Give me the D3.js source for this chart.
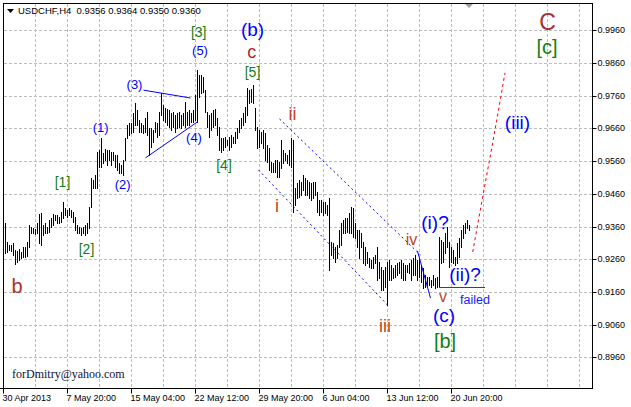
<!DOCTYPE html>
<html><head><meta charset="utf-8">
<script src="https://cdn.jsdelivr.net/npm/d3@7"></script>
<style>
html,body{margin:0;padding:0;background:#fff;}
svg{display:block;}
</style></head>
<body>
<svg id="chart" width="631" height="407"></svg>
<script>
// ---- DATA ----
const symbolTitle = "USDCHF,H4  0.9356 0.9364 0.9350 0.9360";
const highs = [
0.9371,0.9313,0.9304,0.9304,0.9310,0.9288,0.9285,0.9291,0.9282,0.9297,
0.9297,0.9313,0.9365,0.9359,0.9356,0.9353,0.9371,0.9398,0.9401,0.9365,
0.9371,0.9359,0.9380,0.9386,0.9398,0.9395,0.9395,0.9389,0.9405,0.9435,
0.9417,0.9411,0.9417,0.9411,0.9405,0.9389,0.9365,0.9359,0.9356,0.9359,
0.9365,0.9371,0.9420,0.9509,0.9502,0.9518,0.9588,0.9594,0.9631,0.9585,
0.9597,0.9594,0.9594,0.9588,0.9588,0.9579,0.9579,0.9554,0.9548,0.9563,
0.9631,0.9670,0.9677,0.9677,0.9707,0.9738,0.9716,0.9686,0.9677,0.9670,
0.9692,0.9710,0.9661,0.9661,0.9655,0.9680,0.9677,0.9710,
0.9768,0.9732,0.9722,0.9719,0.9716,0.9707,0.9710,0.9701,0.9707,0.9710,0.9701,0.9707,
0.9741,0.9710,0.9716,0.9707,0.9716,0.9762,0.9839,0.9823,0.9823,0.9817,
0.9778,0.9710,0.9701,0.9707,0.9716,0.9719,0.9692,0.9664,0.9631,0.9631,
0.9634,0.9625,0.9634,0.9640,0.9634,0.9649,0.9661,0.9686,0.9692,0.9707,
0.9725,0.9784,0.9778,0.9781,0.9793,0.9722,0.9664,0.9655,0.9649,0.9655,
0.9646,0.9609,0.9600,0.9557,0.9554,0.9563,0.9563,0.9557,0.9625,0.9594,
0.9585,0.9579,0.9594,0.9631,0.9625,
0.9478,0.9493,0.9502,0.9496,0.9518,0.9509,0.9502,0.9496,0.9493,0.9496,
0.9496,0.9466,0.9441,0.9441,0.9435,0.9435,0.9426,0.9447,0.9313,0.9310,
0.9297,0.9304,0.9349,0.9371,0.9380,0.9386,0.9386,0.9401,0.9420,0.9417,
0.9371,0.9349,0.9349,0.9340,0.9313,0.9297,0.9282,0.9264,0.9258,0.9267,
0.9273,0.9297,0.9252,0.9236,0.9227,0.9236,0.9252,0.9258,0.9242,0.9233,
0.9242,0.9249,0.9252,0.9258,0.9249,0.9242,0.9242,0.9249,0.9258,0.9264,
0.9273,0.9258,0.9264,0.9242,0.9233,0.9212,0.9206,0.9206,0.9196,0.9212,
0.9203,0.9206,0.9328,0.9319,0.9313,0.9340,0.9359,0.9313,0.9297,0.9288,
0.9267,0.9310,0.9325,0.9349,0.9365,0.9371,0.9380,0.9364
];
const lows = [
0.9279,0.9282,0.9288,0.9285,0.9273,0.9245,0.9252,0.9258,0.9264,0.9267,
0.9267,0.9270,0.9297,0.9340,0.9340,0.9337,0.9340,0.9310,0.9304,0.9334,
0.9340,0.9340,0.9343,0.9359,0.9365,0.9380,0.9371,0.9371,0.9374,0.9386,
0.9395,0.9389,0.9395,0.9389,0.9374,0.9349,0.9340,0.9340,0.9334,0.9340,
0.9334,0.9340,0.9356,0.9420,0.9478,0.9478,0.9478,0.9542,0.9542,0.9554,
0.9563,0.9548,0.9563,0.9548,0.9563,0.9542,0.9533,0.9524,0.9524,0.9518,
0.9563,0.9631,0.9640,0.9646,0.9649,0.9670,0.9670,0.9649,0.9649,0.9646,
0.9649,0.9640,0.9579,0.9603,0.9618,0.9649,0.9634,0.9640,
0.9701,0.9686,0.9680,0.9670,0.9664,0.9655,0.9664,0.9649,0.9661,0.9664,0.9661,0.9670,
0.9664,0.9670,0.9670,0.9680,0.9680,0.9686,0.9680,0.9756,0.9768,0.9771,
0.9710,0.9664,0.9634,0.9655,0.9664,0.9670,0.9640,0.9594,0.9588,0.9594,
0.9603,0.9609,0.9594,0.9603,0.9615,0.9615,0.9631,0.9649,0.9661,0.9670,
0.9680,0.9701,0.9738,0.9741,0.9738,0.9655,0.9600,0.9603,0.9615,0.9600,
0.9563,0.9557,0.9533,0.9527,0.9527,0.9527,0.9512,0.9512,0.9539,0.9554,
0.9563,0.9554,0.9548,0.9542,0.9405,
0.9426,0.9447,0.9450,0.9457,0.9472,0.9457,0.9457,0.9447,0.9441,0.9447,
0.9457,0.9405,0.9395,0.9405,0.9395,0.9401,0.9395,0.9227,0.9273,0.9264,
0.9252,0.9264,0.9297,0.9304,0.9340,0.9340,0.9343,0.9340,0.9340,0.9328,
0.9325,0.9297,0.9264,0.9297,0.9249,0.9242,0.9249,0.9236,0.9233,0.9233,
0.9249,0.9196,0.9203,0.9166,0.9166,0.9175,0.9120,0.9196,0.9196,0.9203,
0.9206,0.9212,0.9218,0.9203,0.9196,0.9196,0.9221,0.9218,0.9196,0.9212,
0.9212,0.9196,0.9206,0.9190,0.9172,0.9175,0.9175,0.9181,0.9175,0.9181,
0.9172,0.9175,0.9175,0.9249,0.9252,0.9279,0.9297,0.9236,0.9252,0.9249,
0.9242,0.9249,0.9267,0.9297,0.9325,0.9340,0.9356,0.9350
];
const priceTicks = [0.9960,0.9860,0.9760,0.9660,0.9560,0.9460,0.9360,0.9260,0.9160,0.9060,0.8960];
const timeTickBars = [0,32,64,96,128,160,192,224];
const timeTickLabels = ["30 Apr 2013","7 May 20:00","15 May 04:00","22 May 12:00","29 May 20:00","6 Jun 04:00","13 Jun 12:00","20 Jun 20:00"];

// wave labels: text, bar index, price (baseline), kind
const waveText  = ["(1)","(2)","(3)","(4)","(5)","[1]","[2]","[3]","[4]","[5]","(b)","c","b","i","ii","iii","iv","v","(c)","[b]","(i)?","(ii)?","failed","(iii)","C","[c]"];
const waveBar   = [48.85,59.85,65.75,95.5,98.5,29.75,41.75,97.85,110.5,124.75,124.75,124.35,7,137,144.75,191,204.25,220,220.5,221,216,231,236,257.25,272.25,272];
const wavePrice = [0.9648,0.9474,0.9780,0.9618,0.9885,0.9481,0.9276,0.9940,0.9533,0.9817,0.9943,0.9875,0.9157,0.9404,0.9686,0.9037,0.9303,0.9129,0.9068,0.8988,0.9352,0.9193,0.9123,0.9658,0.9961,0.9888];
const waveKind  = ["minor","minor","minor","minor","minor","inter","inter","inter","inter","inter","minorL","minute","minuteL","minute","minute","minute","minuteS","minuteS","minorL","interL","minorL","minorL","note","minorL","primary","interL"];

// trend lines: [bar, price] pairs
const line3 = [[70,0.9777],[93.5,0.9753]];
const line4 = [[71,0.9570],[97,0.9680]];
const channelUpper = [[138,0.9689],[208.5,0.9273]];
const channelLower = [[127.5,0.9533],[192,0.9120]];
const wedgeLine = [[207,0.9285],[213.5,0.9141]];
const projection = [[234.85,0.9282],[240.5,0.9472],[246,0.9655],[251,0.9830]];
const failedLine = [[218,0.9176],[241,0.9176]];

// ---- DRAW ----
const W = 631, H = 407;
const svg = d3.select("#chart");
svg.append("rect").attr("width",W).attr("height",H).attr("fill","#fff");

const x = d3.scaleLinear().domain([0,295]).range([3,593]);
const y = d3.scaleLinear().domain([0.88631,1.00435]).range([389,3]);
const px = v => Math.round(x(v)) + 0.5;
const py = v => Math.round(y(v)) + 0.5;

const font = "'Liberation Sans', Arial, sans-serif";

// grid
const grid = svg.append("g").attr("stroke","#bdbdbd").attr("stroke-dasharray","3,2").attr("shape-rendering","crispEdges");
priceTicks.forEach(p => grid.append("line").attr("x1",4).attr("x2",592).attr("y1",py(p)).attr("y2",py(p)));
d3.range(16,295,16).forEach(b => grid.append("line").attr("x1",px(b)).attr("x2",px(b)).attr("y1",4).attr("y2",388));

// bars
const barsG = svg.append("g").attr("stroke","#000").attr("stroke-width",1).attr("shape-rendering","crispEdges");
barsG.selectAll("line").data(highs).join("line")
  .attr("x1",(d,i)=>px(i+1)).attr("x2",(d,i)=>px(i+1))
  .attr("y1",(d)=>Math.round(y(d)))
  .attr("y2",(d,i)=>Math.max(Math.round(y(lows[i]))+1, Math.round(y(d))+2));

// frame: top & left
svg.append("line").attr("x1",3.5).attr("x2",3.5).attr("y1",3).attr("y2",389).attr("stroke","#000");
svg.append("line").attr("x1",3).attr("x2",593).attr("y1",3.5).attr("y2",3.5).attr("stroke","#000");

// axes
const yAxis = d3.axisRight(y).tickValues(priceTicks).tickFormat(d3.format(".4f")).tickSize(4).tickPadding(1);
const ya = svg.append("g").attr("transform","translate(592.5,0)").call(yAxis);
ya.select(".domain").attr("d","M0,3V389").attr("stroke","#000");
ya.selectAll(".tick line").attr("stroke","#000");
ya.selectAll(".tick").attr("transform",d=>`translate(0,${py(d)})`);
ya.selectAll("text").attr("font-family",font).attr("font-size","9px").attr("fill","#000");

const xAxis = d3.axisBottom(x).tickValues(timeTickBars).tickFormat((d,i)=>timeTickLabels[i]).tickSize(5).tickPadding(0);
const xa = svg.append("g").attr("transform","translate(0,388.5)").call(xAxis);
xa.select(".domain").attr("d","M0,0H593").attr("stroke","#000");
xa.selectAll(".tick").attr("transform",d=>`translate(${px(d)},0)`);
xa.selectAll(".tick line").attr("stroke","#000");
xa.selectAll("text").attr("font-family",font).attr("font-size","9px").attr("fill","#000")
  .attr("text-anchor","start").attr("x",-1).attr("dy","0.78em");

// trend lines
const lg = d3.line().x(d=>x(d[0])+0.5).y(d=>y(d[1]));
svg.append("path").attr("d",lg(line3)).attr("stroke","#0000ff").attr("fill","none");
svg.append("path").attr("d",lg(line4)).attr("stroke","#0000ff").attr("fill","none");
svg.append("path").attr("d",lg(channelUpper)).attr("stroke","#0000ff").attr("stroke-dasharray","2,3").attr("fill","none");
svg.append("path").attr("d",lg(channelLower)).attr("stroke","#0000ff").attr("stroke-dasharray","2,3").attr("fill","none");
svg.append("path").attr("d",lg(wedgeLine)).attr("stroke","#0000ff").attr("fill","none");
svg.append("path").attr("d",d3.line().x(d=>x(d[0])).y(d=>y(d[1])).curve(d3.curveMonotoneX)(projection))
  .attr("stroke","#ff0000").attr("stroke-dasharray","3,3").attr("fill","none");
svg.append("path").attr("d",d3.line().x(d=>x(d[0])).y(d=>py(d[1]))(failedLine)).attr("stroke","#e00000").attr("fill","none").attr("shape-rendering","crispEdges");

// wave labels
const kindStyle = {
  minor:  {c:"#0000ff", s:13},
  minorL: {c:"#0000ff", s:19},
  inter:  {c:"#118011", s:14},
  interL: {c:"#118011", s:20},
  minute: {c:"#c0442a", s:18},
  minuteS:{c:"#c0442a", s:16},
  minuteL:{c:"#b0302a", s:20},
  primary:{c:"#a83030", s:23},
  note:   {c:"#1a1aff", s:12.5}
};
waveText.forEach((t,i)=>{
  const st = kindStyle[waveKind[i]];
  let c = st.c;
  if (t==="c") c = "#b02a2a";
  svg.append("text").text(t)
    .attr("x",x(waveBar[i])).attr("y",y(wavePrice[i]))
    .attr("text-anchor","middle")
    .attr("font-family",font).attr("font-size",st.s+"px")
    .attr("fill",c);
});

// header
svg.append("path").attr("d","M7,9L14,9L10.5,13Z").attr("fill","#000");
svg.append("text").text(symbolTitle).attr("x",18).attr("y",14)
  .attr("font-family",font).attr("font-size","9.5px").attr("fill","#000").attr("xml:space","preserve").style("white-space","pre");

// chart shift marker
svg.append("path").attr("d","M465,4L473,4L469,8Z").attr("fill","#a0a0a0");

// watermark
svg.append("text").text("forDmitry@yahoo.com").attr("x",12).attr("y",378)
  .attr("font-family","'Liberation Serif','Times New Roman',serif").attr("font-size","12px").attr("fill","#10103a");
</script>
</body></html>
